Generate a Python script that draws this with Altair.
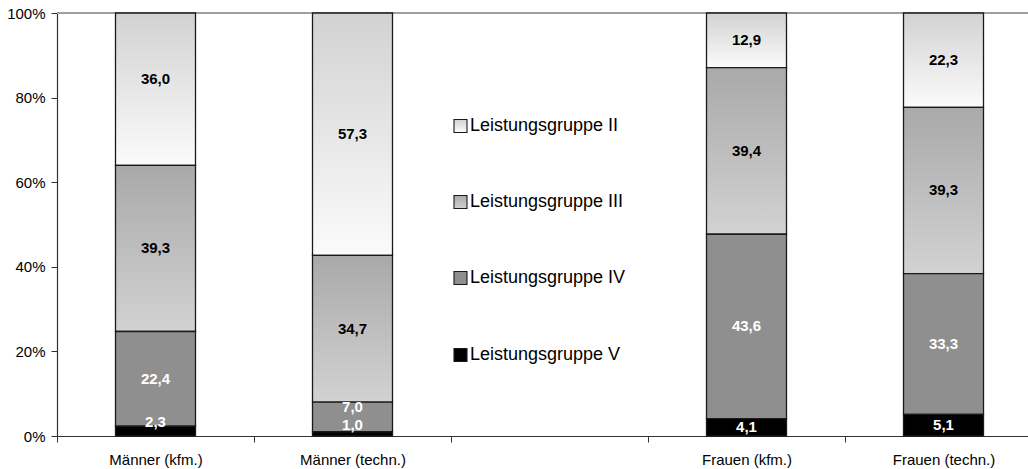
import altair as alt
import pandas as pd

# --- data -------------------------------------------------------------------
categories = ["Männer (kfm.)", "Männer (techn.)", "Frauen (kfm.)", "Frauen (techn.)"]
# slots along the x axis; the empty slot leaves room for the legend
axis_slots = ["Männer (kfm.)", "Männer (techn.)", "", "Frauen (kfm.)", "Frauen (techn.)"]
groups = ["Leistungsgruppe II", "Leistungsgruppe III", "Leistungsgruppe IV", "Leistungsgruppe V"]

lg_ii = [36.0, 57.3, 12.9, 22.3]
lg_iii = [39.3, 34.7, 39.4, 39.3]
lg_iv = [22.4, 7.0, 43.6, 33.3]
lg_v = [2.3, 1.0, 4.1, 5.1]

y_ticks = [0, 20, 40, 60, 80, 100]

shares = dict(zip(groups, [lg_ii, lg_iii, lg_iv, lg_v]))

# small upward nudges (percentage points) for labels in thin segments
label_lift = {
    ("Männer (kfm.)", "Leistungsgruppe II"): 2.4,
    ("Männer (kfm.)", "Leistungsgruppe V"): 2.1,
    ("Männer (techn.)", "Leistungsgruppe IV"): 2.4,
    ("Männer (techn.)", "Leistungsgruppe V"): 2.1,
}

rows = []
for g_i, g in enumerate(groups):
    for c_i, c in enumerate(categories):
        rows.append({
            "category": c,
            "slot": axis_slots.index(c) + 0.5,
            "group": g,
            "rank": g_i,
            "value": shares[g][c_i],
            "lift": label_lift.get((c, g), 0.0),
        })
df = pd.DataFrame(rows)

# --- styling ----------------------------------------------------------------
FONT = "Liberation Sans"
W, H = 971, 423
PAD_L, PAD_T = 57, 13
STEP = 197  # pixels per x slot
BAR_W = 80
EDGE = "#1a1a1a"


def vgrad(top, bottom):
    return alt.LinearGradient(
        gradient="linear",
        stops=[alt.GradientStop(color=top, offset=0), alt.GradientStop(color=bottom, offset=1)],
        x1=0, x2=0, y1=0, y2=1,
    )


fills = {
    "Leistungsgruppe II": vgrad("#d2d2d2", "#fbfbfb"),
    "Leistungsgruppe III": vgrad("#a9a9a9", "#d2d2d2"),
    "Leistungsgruppe IV": "#8f8f8f",
    "Leistungsgruppe V": "#000000",
}
light_text_groups = ["Leistungsgruppe IV", "Leistungsgruppe V"]

x_scale = alt.Scale(domain=[0, W / STEP], nice=False, zero=False, padding=0)
y_scale = alt.Scale(domain=[0, 100], nice=False, padding=0)

slot_js = "[" + ",".join("'" + s + "'" for s in axis_slots) + "][datum.value]"
x_axis = alt.Axis(
    values=list(range(len(axis_slots))), labelExpr=slot_js, labelOffset=STEP / 2,
    labelFlush=False, labelOverlap=False, labelBound=False, grid=False, title=None,
    tickSize=6, tickColor="#333333", domainColor="#333333", domainWidth=1.2,
    labelFont=FONT, labelFontSize=15, labelColor="#000000", labelPadding=10,
    labelAlign="center", labelBaseline="top",
)
y_axis = alt.Axis(
    values=y_ticks, labelExpr="datum.value + '%'", grid=False, title=None,
    tickSize=6, tickColor="#333333", domainColor="#333333", domainWidth=1.2,
    labelFont=FONT, labelFontSize=15, labelColor="#000000", labelPadding=6,
    labelFlush=False, labelOverlap=False, labelBound=False,
)

base = alt.Chart(df).transform_stack(
    stack="value", groupby=["category"], as_=["y0", "y1"],
    sort=[alt.SortField("rank", order="descending")],
)

# top border line of the plot area
top_line = alt.Chart(df).mark_rule(color="#a0a0a0", strokeWidth=1.6).encode(
    y=alt.Y(datum=100, type="quantitative", scale=y_scale, axis=y_axis)
)

bars = []
for g in groups:
    bars.append(
        base.transform_filter(alt.datum.group == g)
        .mark_bar(size=BAR_W, fill=fills[g], stroke=EDGE, strokeWidth=1.3)
        .encode(
            x=alt.X("slot:Q", scale=x_scale, axis=x_axis),
            y=alt.Y("y0:Q", scale=y_scale, axis=y_axis),
            y2="y1:Q",
        )
    )

labels = base.transform_calculate(
    mid="(datum.y0 + datum.y1) / 2 + datum.lift",
    label="replace(format(datum.value, '.1f'), '.', ',')",
).mark_text(font=FONT, fontWeight="bold", fontSize=15, baseline="middle").encode(
    x=alt.X("slot:Q", scale=x_scale, axis=x_axis),
    y=alt.Y("mid:Q", scale=y_scale, axis=y_axis),
    text="label:N",
    color=alt.condition(
        alt.FieldOneOfPredicate(field="group", oneOf=light_text_groups),
        alt.value("#ffffff"), alt.value("#000000"),
    ),
)

# hand-placed legend in the empty slot
legend_rows_y = [126, 202, 278, 355]
legend_x = 454
legend_layers = []
for g, yc in zip(groups, legend_rows_y):
    src = alt.Chart(pd.DataFrame({"group": [g]}))
    legend_layers.append(
        src.mark_rect(fill=fills[g], stroke=EDGE, strokeWidth=1.1).encode(
            x=alt.value(legend_x - PAD_L), x2=alt.value(legend_x - PAD_L + 13),
            y=alt.value(yc - PAD_T - 6.5), y2=alt.value(yc - PAD_T + 6.5),
        )
    )
    legend_layers.append(
        src.mark_text(font=FONT, fontSize=18, align="left", baseline="middle", color="#000000").encode(
            x=alt.value(legend_x - PAD_L + 16), y=alt.value(yc - PAD_T), text="group:N"
        )
    )

chart = (
    alt.layer(top_line, *bars, labels, *legend_layers)
    .properties(
        width=W, height=H,
        padding={"left": PAD_L, "top": PAD_T, "right": 0, "bottom": 469 - PAD_T - H},
        autosize=alt.AutoSizeParams(type="none"),
        background="#ffffff",
    )
    .configure_view(stroke=None)
)

chart.save("out.html", embed_options={"renderer": "svg", "actions": False})
